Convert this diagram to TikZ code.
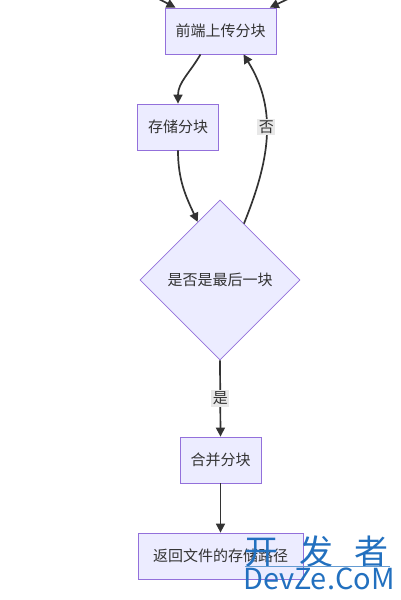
\documentclass[tikz,border=0pt]{standalone}
\usepackage{fontspec}
\setmainfont{Noto Sans CJK SC}
\usepackage{xcolor}
\usetikzlibrary{arrows.meta,shapes.geometric}

\definecolor{boxfill}{HTML}{ECECFF}
\definecolor{boxline}{HTML}{9370DB}
\definecolor{flowline}{HTML}{333333}
\definecolor{tagfill}{HTML}{E8E8E8}
\definecolor{markblue}{HTML}{2270BF}

\begin{document}
\begin{tikzpicture}[x=1pt,y=1pt,>={Triangle[length=9pt,width=9pt]},
  stepbox/.style={rectangle,draw=boxline,fill=boxfill,line width=0.8pt,
    inner xsep=10.5pt,minimum height=46pt,font=\fontsize{15}{18}\selectfont,text=black!80},
  askbox/.style={diamond,draw=boxline,fill=boxfill,line width=0.8pt,inner sep=0pt,
    minimum width=160pt,minimum height=160pt,font=\fontsize{15}{18}\selectfont,text=black!80},
  flow/.style={->,draw=flowline,line width=1.7pt},
  tag/.style={fill=tagfill,inner sep=1.5pt,font=\fontsize{15}{18}\selectfont,text=black!80}]
  \useasboundingbox (0,0) rectangle (400,-600);

  \node[stepbox] (upload) at (220.5,-31) {前端上传分块};
  \node[stepbox] (store) at (178,-127) {存储分块};
  \node[askbox] (islast) at (220,-280) {是否是最后一块};
  \node[stepbox] (merge) at (220.5,-460) {合并分块};
  \node[stepbox,minimum width=165pt] (result) at (220.5,-556) {返回文件的存储路径};
  \coordinate (inleft) at (157,2);
  \coordinate (inright) at (290,2);

  \draw[flow] (inleft) -- (upload);
  \draw[flow] (inright) -- (upload);
  \draw[flow] ([xshift=-20pt]upload.south) to[out=-120,in=90] (store.north);
  \draw[flow] (store.south) to[out=-90,in=115] (islast.111);
  \draw[flow] (islast.67) to[out=68,in=-58] node[tag,pos=0.56] {否} ([xshift=23pt]upload.south);
  \draw[flow] (islast.south) -- node[tag] {是} (merge.north);
  \draw[flow] (merge.south) -- (result.north);

  % watermark
  \node[anchor=west,text=markblue,inner sep=0pt,font=\fontsize{34}{36}\selectfont] (markcn) at (244,-552) {开\hspace{21pt}发\hspace{21pt}者};
  \draw[markblue!70,line width=0.6pt] (245,-566) -- (390,-566);
  \node[anchor=west,text=markblue,inner sep=0pt,font=\fontsize{29}{30}\selectfont] (markla) at (243,-579) {DevZe.CoM};
\end{tikzpicture}
\end{document}
